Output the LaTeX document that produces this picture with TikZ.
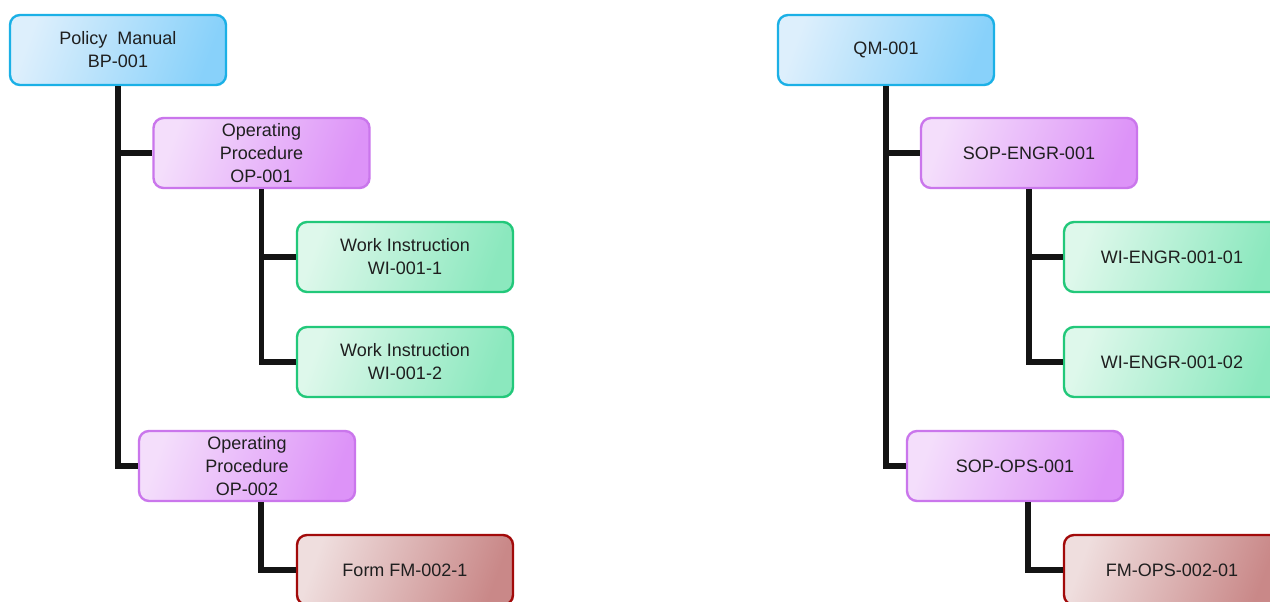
\documentclass[tikz,border=0pt]{standalone}
\usepackage{fontspec}
\setmainfont{Liberation Sans}
\begin{document}
\begin{tikzpicture}[x=1pt,y=-1pt,
  box/.style={draw, line width=2.4pt, rounded corners=10pt, minimum width=216pt,
    minimum height=70pt, inner sep=2pt, align=center, text=black!88,
    font=\fontsize{18}{23}\selectfont},
  bluebox/.style={box, draw=bluedraw, left color=blueL, right color=blueR, shading angle=70},
  purplebox/.style={box, draw=purpledraw, left color=purpleL, right color=purpleR, shading angle=70},
  greenbox/.style={box, draw=greendraw, left color=greenL, right color=greenR, shading angle=70},
  redbox/.style={box, draw=reddraw, left color=redL, right color=redR, shading angle=70},
  conn/.style={line width=5.5pt, draw=black!92}
]
\definecolor{bluedraw}{HTML}{1BB0E6}
\definecolor{blueL}{HTML}{DDEFFC}
\definecolor{blueR}{HTML}{88D1FA}
\definecolor{purpledraw}{HTML}{CA76EC}
\definecolor{purpleL}{HTML}{F4DEFB}
\definecolor{purpleR}{HTML}{DD93F8}
\definecolor{greendraw}{HTML}{22C87A}
\definecolor{greenL}{HTML}{DEF8EB}
\definecolor{greenR}{HTML}{8BE8BE}
\definecolor{reddraw}{HTML}{A20A0A}
\definecolor{redL}{HTML}{EFDEDE}
\definecolor{redR}{HTML}{C98888}

\clip (0,0) rectangle (1270,602);
\fill[white] (0,0) rectangle (1270,602);

% left hierarchy
\node[bluebox]   (bp)  at (118,50)    {Policy\ \ Manual\\BP-001};
\node[purplebox] (op1) at (261.5,153) {Operating\\Procedure\\OP-001};
\node[greenbox]  (wi1) at (405,257)   {Work Instruction\\WI-001-1};
\node[greenbox]  (wi2) at (405,362)   {Work Instruction\\WI-001-2};
\node[purplebox] (op2) at (247,466) {Operating\\Procedure\\OP-002};
\node[redbox]    (fm)  at (405,570)   {Form FM-002-1};

% right hierarchy
\node[bluebox]   (qm)   at (886,50)     {QM-001};
\node[purplebox] (sope) at (1029,153)   {SOP-ENGR-001};
\node[greenbox]  (wie1) at (1172,257)   {WI-ENGR-001-01};
\node[greenbox]  (wie2) at (1172,362)   {WI-ENGR-001-02};
\node[purplebox] (sopo) at (1015,466) {SOP-OPS-001};
\node[redbox]    (fmo)  at (1172,570)   {FM-OPS-002-01};

% tree connectors
\draw[conn] (bp.south) |- (op2.west);
\draw[conn] (bp.south |- op1.west) -- (op1.west);
\draw[conn] (op1.south) |- (wi2.west);
\draw[conn] (op1.south |- wi1.west) -- (wi1.west);
\draw[conn] ([xshift=-35pt]op2.south -| fm.west) |- (fm.west);

\draw[conn] (qm.south) |- (sopo.west);
\draw[conn] (qm.south |- sope.west) -- (sope.west);
\draw[conn] (sope.south) |- (wie2.west);
\draw[conn] (sope.south |- wie1.west) -- (wie1.west);
\draw[conn] ([xshift=-35pt]sopo.south -| fmo.west) |- (fmo.west);
\end{tikzpicture}
\end{document}
